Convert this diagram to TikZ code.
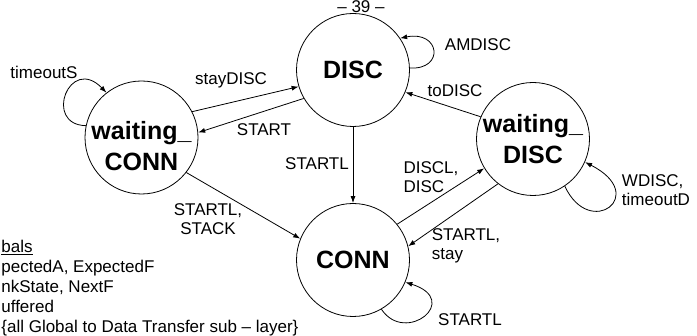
\documentclass[tikz,border=0pt]{standalone}
\usepackage{fontspec}
\setmainfont{Liberation Sans}
\usepackage{tikz}
\usetikzlibrary{arrows.meta}

\begin{document}
\begin{tikzpicture}[x=1pt, y=-1pt, line width=0.8pt,
    >={Latex[length=7pt,width=5pt]},
    state/.style={circle, draw, minimum size=113pt, inner sep=0pt, align=center,
        font=\fontsize{25}{31}\selectfont\bfseries},
    statetext/.style={inner sep=0pt, align=center, font=\fontsize{25}{31}\selectfont\bfseries},
    lbl/.style={inner sep=0pt, align=left, font=\fontsize{17}{19}\selectfont}]

    % frame
    \useasboundingbox (0,0) rectangle (697,336);

    % states
    \node [state] (wconn) at (141.5,137.5) {};
    \node [statetext] (wconntext) at (141.5,146) {waiting\_\\CONN};
    \node [state] (disc) at (353,70) {DISC};
    \node [state] (conn) at (353,260) {CONN};
    \node [state] (wdisc) at (533,139) {waiting\_\\DISC};

    % transitions
    \draw[->] (wconn.27) -- (disc.197);
    \draw[->] (disc.210) -- (wconn.5);
    \draw[->] (wconn.-38) -- (conn.158);
    \draw[->] (disc.south) -- (conn.north);
    \draw[->] (wdisc.157) -- (disc.-23);
    \draw[->] (conn.39) -- (wdisc.211);
    \draw[->] (wdisc.232) -- (conn.14);

    % self loops
    \draw[->] (wconn.168) .. controls +(-43,-1) and +(-37,-38) .. (wconn.128);
    \draw[->] (disc.2) .. controls +(35,2) and +(40,-8) .. (disc.34);
    \draw[->] (wdisc.-56) .. controls +(25,54) and +(65,33) .. (wdisc.-24);
    \draw[->] (conn.-60) .. controls +(24,36) and +(57,18) .. (conn.-23);

    % labels
    \node [lbl] (tS) at (44,72) {timeoutS};
    \node [lbl] (sD) at (231,80) {stayDISC};
    \node [lbl] (st) at (264,130) {START};
    \node [lbl] (stl) at (317,164) {STARTL};
    \node [lbl] (am) at (478,45) {AMDISC};
    \node [lbl] (to) at (455,91) {toDISC};
    \node [lbl] (dl) at (431,177) {DISCL,\\DISC};
    \node [lbl] (sls) at (466,246) {STARTL,\\stay};
    \node [lbl] (wd) at (656,190) {WDISC,\\timeoutD};
    \node [lbl] (sl) at (470,320) {STARTL};
    \node [lbl, align=center] (ss) at (208,219) {STARTL,\\STACK};

    % page number and globals
    \node [lbl, anchor=north] (page) at (361,0.5) {-- 39 --};
    \node [lbl, anchor=north west, font=\fontsize{17}{20}\selectfont] (glob) at (1,240)
        {\underline{bals}\\pectedA, ExpectedF\\nkState, NextF\\uffered\\\{all Global to Data Transfer sub -- layer\}};

\end{tikzpicture}
\end{document}
